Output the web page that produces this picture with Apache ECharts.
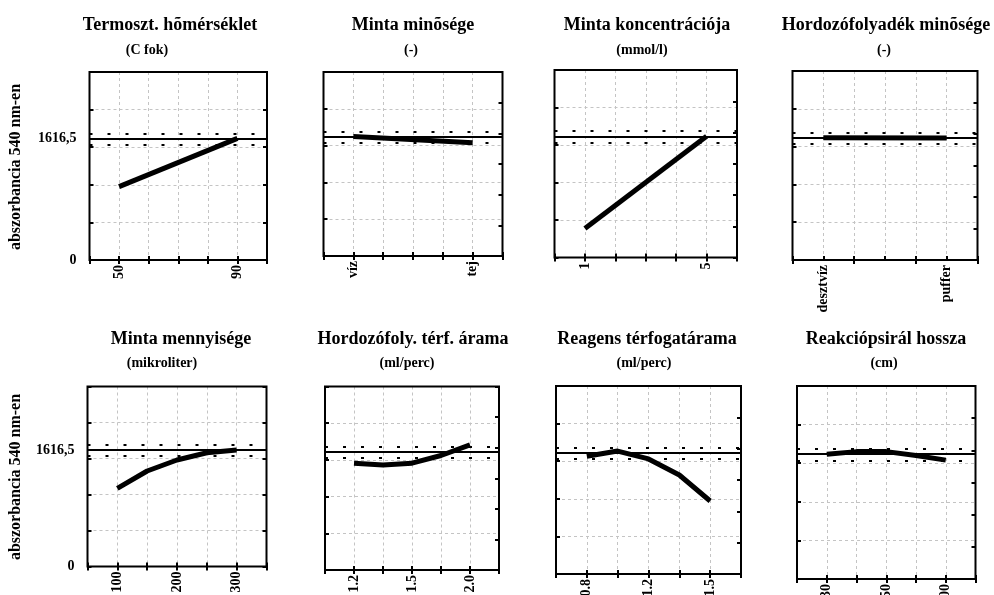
<!DOCTYPE html>
<html>
<head>
<meta charset="utf-8">
<script src="https://cdn.jsdelivr.net/npm/echarts@6/dist/echarts.min.js"></script>
<style>
html,body{margin:0;padding:0;background:#fff;}
#chart{width:994px;height:595px;}
</style>
</head>
<body>
<div id="chart"></div>
<script>
// ---- data ----
const panelTitles = ['Termoszt. hõmérséklet', 'Minta minõsége', 'Minta koncentrációja', 'Hordozófolyadék minõsége',
                     'Minta mennyisége', 'Hordozófoly. térf. árama', 'Reagens térfogatárama', 'Reakciópsirál hossza'];
const panelUnits = ['(C fok)', '(-)', '(mmol/l)', '(-)', '(mikroliter)', '(ml/perc)', '(ml/perc)', '(cm)'];
const yAxisTitle = 'abszorbancia 540 nm-en';

const xLabels1 = ['', '50', '', '', '', '90', ''];
const xLabels2 = ['', 'víz', '', '', '', 'tej', ''];
const xLabels3 = ['', '1', '', '', '', '5', ''];
const xLabels4 = ['', 'desztvíz', '', '', '', 'puffer', ''];
const xLabels5 = ['', '100', '', '200', '', '300', ''];
const xLabels6 = ['', '1.2', '', '1.5', '', '2.0', ''];
const xLabels7 = ['', '0.8', '', '1.2', '', '1.5', ''];
const xLabels8 = ['', '30', '', '50', '', '100', ''];

const values1 = [null, 975, null, null, null, 1616.5, null];
const values2 = [null, 1625, null, null, null, 1540, null];
const values3 = [null, 387, null, null, null, 1616.5, null];
const values4 = [null, 1618, null, null, null, 1614, null];
const values5 = [null, 1086, 1326, 1479, 1580, 1616.5, null];
const values6 = [null, 1455, 1432, 1455, 1560, 1705, null];
const values7 = [null, 1565, 1635, 1530, 1316, 971, null];
const values8 = [null, 1616.5, 1650, 1650, 1600, 1540, null];

const refValue = 1616.5;
const refLabel = '1616,5';
const ciUpper = 1685;
const ciLower = 1535;
const yMin = 0, yMax = 2500, yStep = 500;

// ---- layout ----
const boxes = [
  [89.5, 72, 177.5, 188], [323.5, 72, 179, 184], [554.5, 70, 182.5, 187.5], [792.5, 71, 185, 189],
  [87.5, 386.5, 179, 180], [325, 386.5, 174, 183.5], [556, 386, 185, 188], [797, 386, 178.5, 193]
];
const titlePos = [[170, 25], [413, 25], [647, 25], [886, 25], [181, 339], [413, 339], [647, 339], [886, 339]];
const unitPos = [[147, 50], [411, 50], [642, 50], [884, 50], [162, 363], [407, 363], [644, 363], [884, 363]];
const yTitlePos = [[16, 167], [16, 477]];

const allLabels = [xLabels1, xLabels2, xLabels3, xLabels4, xLabels5, xLabels6, xLabels7, xLabels8];
const allValues = [values1, values2, values3, values4, values5, values6, values7, values8];

const FONT = '"Liberation Serif", "Times New Roman", serif';
const grids = [], xAxes = [], yAxes = [], series = [], graphics = [];

boxes.forEach((b, i) => {
  const firstCol = (i % 4) === 0;
  grids.push({
    left: b[0], top: b[1], width: b[2], height: b[3], z: 10,
    show: true, borderColor: '#000', borderWidth: 2, backgroundColor: 'transparent',
    containLabel: false, outerBoundsMode: 'none'
  });
  const gridLine = { show: true, showMinLine: false, showMaxLine: false,
                     lineStyle: { color: '#c4c4c4', type: [3, 3], width: 1 } };
  xAxes.push({
    type: 'category', gridIndex: i, position: 'bottom', boundaryGap: false, data: allLabels[i],
    axisLine: { show: false },
    axisTick: { show: true, inside: true, length: 4, lineStyle: { color: '#000', width: 2 } },
    axisLabel: { show: true, interval: 0, rotate: 90, margin: 5, color: '#000',
                 fontFamily: FONT, fontWeight: 'bold', fontSize: 14 },
    splitLine: gridLine
  });
  xAxes.push({
    type: 'category', gridIndex: i, position: 'top', boundaryGap: false, data: allLabels[i],
    axisLine: { show: false },
    axisTick: { show: true, inside: true, length: 4, lineStyle: { color: '#000', width: 2 } },
    axisLabel: { show: false }, splitLine: { show: false }
  });
  yAxes.push({
    type: 'value', gridIndex: i, position: 'left', min: yMin, max: yMax, interval: yStep,
    axisLine: { show: false },
    axisTick: { show: true, inside: true, length: 4, lineStyle: { color: '#000', width: 2 } },
    axisLabel: firstCol ? {
      show: true, customValues: [yMin, refValue], margin: 13, color: '#000',
      fontFamily: FONT, fontWeight: 'bold', fontSize: 14,
      formatter: v => (v === refValue ? refLabel : String(v))
    } : { show: false },
    splitLine: gridLine
  });
  yAxes.push({
    type: 'value', gridIndex: i, position: 'right', min: 0, max: firstCol ? 5 : 6, interval: 1,
    axisLine: { show: false },
    axisTick: { show: true, inside: true, length: 4, lineStyle: { color: '#000', width: 2 } },
    axisLabel: { show: false }, splitLine: { show: false }
  });
  series.push({
    type: 'line', xAxisIndex: 2 * i, yAxisIndex: 2 * i, data: allValues[i],
    connectNulls: true, symbol: 'none', silent: true,
    lineStyle: { color: '#000', width: 5, cap: 'butt' },
    markLine: {
      silent: true, symbol: ['none', 'none'], label: { show: false }, animation: false,
      data: [
        { yAxis: refValue, lineStyle: { color: '#000', width: 2, type: 'solid' } },
        { yAxis: ciUpper, lineStyle: { color: '#000', width: 2, type: [3, 15] } },
        { yAxis: ciLower, lineStyle: { color: '#000', width: 2, type: [3, 15] } }
      ]
    },
    z: 3
  });
  graphics.push({
    type: 'text', x: titlePos[i][0], y: titlePos[i][1],
    style: { text: panelTitles[i], font: 'bold 18px ' + FONT, fill: '#000',
             textAlign: 'center', textVerticalAlign: 'middle' }
  });
  graphics.push({
    type: 'text', x: unitPos[i][0], y: unitPos[i][1],
    style: { text: panelUnits[i], font: 'bold 14px ' + FONT, fill: '#000',
             textAlign: 'center', textVerticalAlign: 'middle' }
  });
});
yTitlePos.forEach(p => {
  graphics.push({
    type: 'text', x: p[0], y: p[1], rotation: Math.PI / 2,
    style: { text: yAxisTitle, font: 'bold 16px ' + FONT, fill: '#000',
             textAlign: 'center', textVerticalAlign: 'middle' }
  });
});

const chart = echarts.init(document.getElementById('chart'), null, { renderer: 'canvas' });
chart.setOption({
  animation: false,
  backgroundColor: '#fff',
  grid: grids, xAxis: xAxes, yAxis: yAxes, series: series, graphic: graphics
});
</script>
</body>
</html>
